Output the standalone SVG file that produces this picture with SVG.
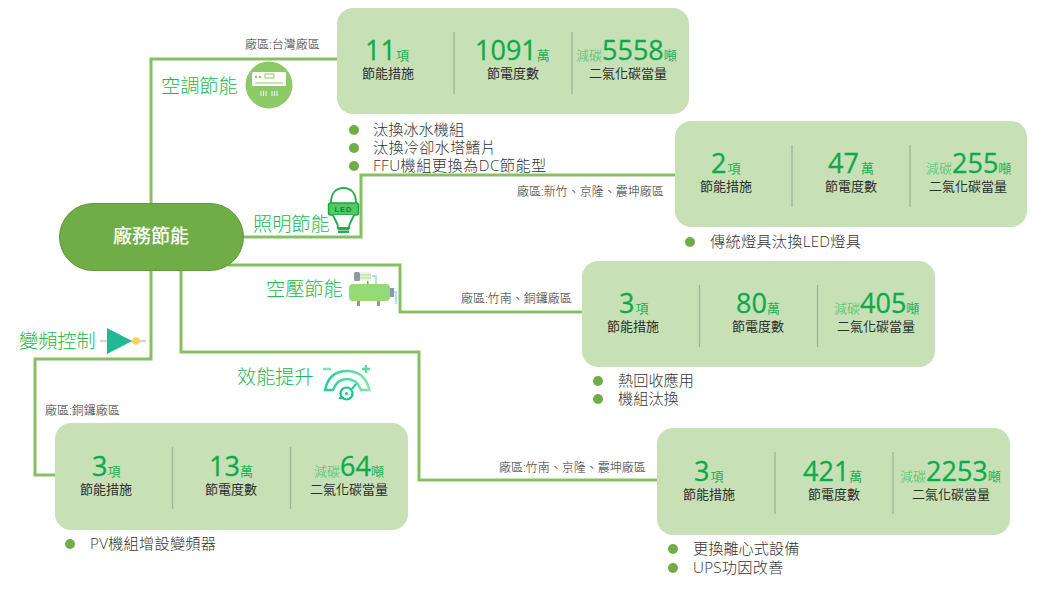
<svg xmlns="http://www.w3.org/2000/svg" width="1048" height="589" viewBox="0 0 1048 589">
<style>
text{font-family:"Open Sans","Noto Sans CJK TC",sans-serif}
.card{fill:#c7e0b5}
.div{stroke:#a3b39a;stroke-width:1.300}
.conn{fill:none;stroke:#85c163;stroke-width:3}
.num{font-size:27px;fill:#0bab4c;stroke:#0bab4c;stroke-width:.3px}
.u{font-size:13px;fill:#22b158}
.pre{font-size:13px;fill:#45c26e;font-weight:300}
.lab{font-size:13px;fill:#2e2e2e;text-anchor:middle}
.area{font-size:12px;fill:#2e2e2e;font-weight:300}
.title{font-size:19.200px;fill:#22b84c;font-weight:300}
.bul{font-size:15.200px;fill:#333;font-weight:300}
.dot{fill:#70ad47}
</style>
<g id="connectors">
<path class="conn" d="M151 205V59H337"/>
<path class="conn" d="M243 237H361V175H675"/>
<path class="conn" d="M228 265H400V312H582"/>
<path class="conn" d="M181 270V352H419V480H657"/>
<path class="conn" d="M151 270V359H35V475H55"/>
</g>
<g id="root">
<rect x="59.500" y="203.500" width="184" height="67" rx="33.500" fill="#70ad47" stroke="#5f9a3c"/>
<text x="151" y="243" font-size="19" font-weight="500" fill="#fff" text-anchor="middle">廠務節能</text>
</g>
<g id="card-ac">
<rect class="card" x="337" y="8" width="352" height="106" rx="16"/>
<path class="div" d="M454 32V94M572 32V94"/>
<text y="60"><tspan class="num" x="365">11</tspan><tspan class="u">項</tspan></text>
<text class="lab" x="388" y="78">節能措施</text>
<text y="60"><tspan class="num" x="475">1091</tspan><tspan class="u">萬</tspan></text>
<text class="lab" x="513" y="78">節電度數</text>
<text y="60"><tspan class="pre" x="576">減碳</tspan><tspan class="num">5558</tspan><tspan class="u">噸</tspan></text>
<text class="lab" x="628" y="78">二氣化碳當量</text>
</g>
<g id="card-light">
<rect class="card" x="675" y="121" width="352" height="106" rx="16"/>
<path class="div" d="M792 145V207M910 145V207"/>
<text y="173"><tspan class="num" x="711">2</tspan><tspan class="u" dx="1">項</tspan></text>
<text class="lab" x="726" y="191">節能措施</text>
<text y="173"><tspan class="num" x="828">47</tspan><tspan class="u" dx="2">萬</tspan></text>
<text class="lab" x="851" y="191">節電度數</text>
<text y="173"><tspan class="pre" x="926">減碳</tspan><tspan class="num">255</tspan><tspan class="u">噸</tspan></text>
<text class="lab" x="968" y="191">二氣化碳當量</text>
</g>
<g id="card-air">
<rect class="card" x="582" y="261" width="353" height="106" rx="16"/>
<path class="div" d="M699.500 285V347M817.500 285V347"/>
<text y="313"><tspan class="num" x="619">3</tspan><tspan class="u" dx="1">項</tspan></text>
<text class="lab" x="633" y="331">節能措施</text>
<text y="313"><tspan class="num" x="736">80</tspan><tspan class="u">萬</tspan></text>
<text class="lab" x="758" y="331">節電度數</text>
<text y="313"><tspan class="pre" x="834">減碳</tspan><tspan class="num">405</tspan><tspan class="u">噸</tspan></text>
<text class="lab" x="876" y="331">二氣化碳當量</text>
</g>
<g id="card-vfd">
<rect class="card" x="55" y="423" width="353" height="107" rx="16"/>
<path class="div" d="M172.500 447V509M290.500 447V509"/>
<text y="476"><tspan class="num" x="92">3</tspan><tspan class="u">項</tspan></text>
<text class="lab" x="106" y="494">節能措施</text>
<text y="476"><tspan class="num" x="209">13</tspan><tspan class="u">萬</tspan></text>
<text class="lab" x="231" y="494">節電度數</text>
<text y="476"><tspan class="pre" x="314">減碳</tspan><tspan class="num">64</tspan><tspan class="u">噸</tspan></text>
<text class="lab" x="349" y="494">二氣化碳當量</text>
</g>
<g id="card-eff">
<rect class="card" x="657" y="428" width="353" height="107" rx="16"/>
<path class="div" d="M775 452V514M893 452V514"/>
<text y="481"><tspan class="num" x="694">3</tspan><tspan class="u" dx="1">項</tspan></text>
<text class="lab" x="709" y="499">節能措施</text>
<text y="481"><tspan class="num" x="803">421</tspan><tspan class="u">萬</tspan></text>
<text class="lab" x="834" y="499">節電度數</text>
<text y="481"><tspan class="pre" x="900">減碳</tspan><tspan class="num">2253</tspan><tspan class="u">噸</tspan></text>
<text class="lab" x="951" y="499">二氣化碳當量</text>
</g>
<g id="areas">
<text class="area" x="245" y="49">廠區:台灣廠區</text>
<text class="area" x="517" y="196">廠區:新竹、京隆、震坤廠區</text>
<text class="area" x="461" y="303">廠區:竹南、銅鑼廠區</text>
<text class="area" x="45" y="415">廠區:銅鑼廠區</text>
<text class="area" x="499" y="472">廠區:竹南、京隆、震坤廠區</text>
</g>
<g id="bullets">
<circle class="dot" cx="354" cy="130" r="5"/><text class="bul" x="373" y="135">汰換冰水機組</text>
<circle class="dot" cx="354" cy="148" r="5"/><text class="bul" x="373" y="153" letter-spacing=".2">汰換冷卻水塔鰭片</text>
<circle class="dot" cx="354" cy="166" r="5"/><text class="bul" x="373" y="171" letter-spacing=".45">FFU機組更換為DC節能型</text>
<circle class="dot" cx="690" cy="242" r="5"/><text class="bul" x="710" y="247" letter-spacing=".25">傳統燈具汰換LED燈具</text>
<circle class="dot" cx="598" cy="381" r="5"/><text class="bul" x="618" y="386">熱回收應用</text>
<circle class="dot" cx="598" cy="399" r="5"/><text class="bul" x="618" y="404">機組汰換</text>
<circle class="dot" cx="70" cy="544" r="5"/><text class="bul" x="90" y="549" letter-spacing=".25">PV機組增設變頻器</text>
<circle class="dot" cx="673" cy="549" r="5"/><text class="bul" x="693" y="554">更換離心式設備</text>
<circle class="dot" cx="673" cy="568" r="5"/><text class="bul" x="693" y="573" letter-spacing=".25">UPS功因改善</text>
</g>
<g id="node-ac">
<text class="title" x="161" y="93">空調節能</text>
<circle cx="269" cy="85" r="23.500" fill="#8cc967"/>
<rect x="252" y="72" width="34" height="14" rx="1.500" fill="#fff"/>
<path d="M255 83H283" stroke="#8cc967" stroke-width="1"/>
<circle cx="256" cy="77" r="1.200" fill="#8cc967"/><circle cx="260" cy="77" r="1.200" fill="#8cc967"/>
<rect x="265" y="74" width="9" height="4" fill="none" stroke="#8cc967" stroke-width="1"/>
<path d="M261 91v5M263.500 91v5M266 91v5M272 91v5M274.500 91v5M277 91v5" stroke="#fff" stroke-width=".9"/>
</g>
<g id="node-light">
<text class="title" x="253" y="231">照明節能</text>
<path d="M331 203C331 192 337 188 343.500 188C350 188 356 192 356 203" fill="#fff" stroke="#22b04c" stroke-width="2"/>
<rect x="328.500" y="203" width="30" height="12" rx="2" fill="#4fcb62" stroke="#1fa344" stroke-width="1.500"/>
<text x="343.500" y="212" font-size="7.500" font-weight="700" fill="#13803a" text-anchor="middle" letter-spacing="1" style="font-family:'Liberation Sans',sans-serif">LED</text>
<path d="M333 215C335 221 338 222 338 228H349C349 222 352 221 354 215" fill="#fff" stroke="#22b04c" stroke-width="2"/>
<path d="M338 229.500H349M338 232H349" stroke="#22b04c" stroke-width="2"/>
</g>
<g id="node-air">
<text class="title" x="266" y="296">空壓節能</text>
<path d="M372 276H376V284M394 292H396V304" fill="none" stroke="#a8e6f7" stroke-width="2"/>
<rect x="354" y="272" width="6" height="9" rx="1.500" fill="#8b98a8"/>
<rect x="360" y="272" width="11" height="9" fill="#eef2e6"/>
<path d="M360 275H371M360 278H371" stroke="#a6dc80"/>
<rect x="367" y="281" width="1.500" height="3" fill="#8b98a8"/>
<rect x="357" y="301" width="3" height="5" fill="#8b98a8"/><rect x="377" y="301" width="3" height="5" fill="#8b98a8"/>
<rect x="349" y="284" width="41" height="17" rx="4" fill="#95da77"/>
<rect x="390" y="288" width="4" height="9" fill="#8b98a8"/>
</g>
<g id="node-eff">
<defs><linearGradient id="gg" x1="0" y1="0" x2="1" y2="0"><stop offset="0" stop-color="#1fd09a"/><stop offset="1" stop-color="#7ee8a4"/></linearGradient></defs>
<text class="title" x="237" y="384">效能提升</text>
<path d="M325 390C328 376 337 371 347 371C357 371 366 376 369.500 390L361 390C358 382 353 379 347 379C341 379 336 382 333 390Z" fill="#fff" stroke="url(#gg)" stroke-width="2.400"/>
<circle cx="346.500" cy="393.500" r="6" fill="#fff" stroke="#14c48f" stroke-width="2.200"/>
<circle cx="346.500" cy="393.500" r="1.500" fill="#14c48f"/>
<path d="M339 398H344M352 389L356 384" stroke="#14c48f" stroke-width="2"/>
<path d="M323 369H331" stroke="#7ce5aa" stroke-width="2.400"/>
<path d="M362 369H370M366 365V373" stroke="#5fdd98" stroke-width="2.400"/>
</g>
<g id="node-vfd">
<text class="title" x="19" y="348">變頻控制</text>
<path d="M100 341H146" stroke="#d4d8d4" stroke-width="2.500"/>
<path d="M107 328V354L132 341Z" fill="#22b795"/>
<circle cx="136" cy="341" r="3.700" fill="#f7d24c"/>
</g>
</svg>
